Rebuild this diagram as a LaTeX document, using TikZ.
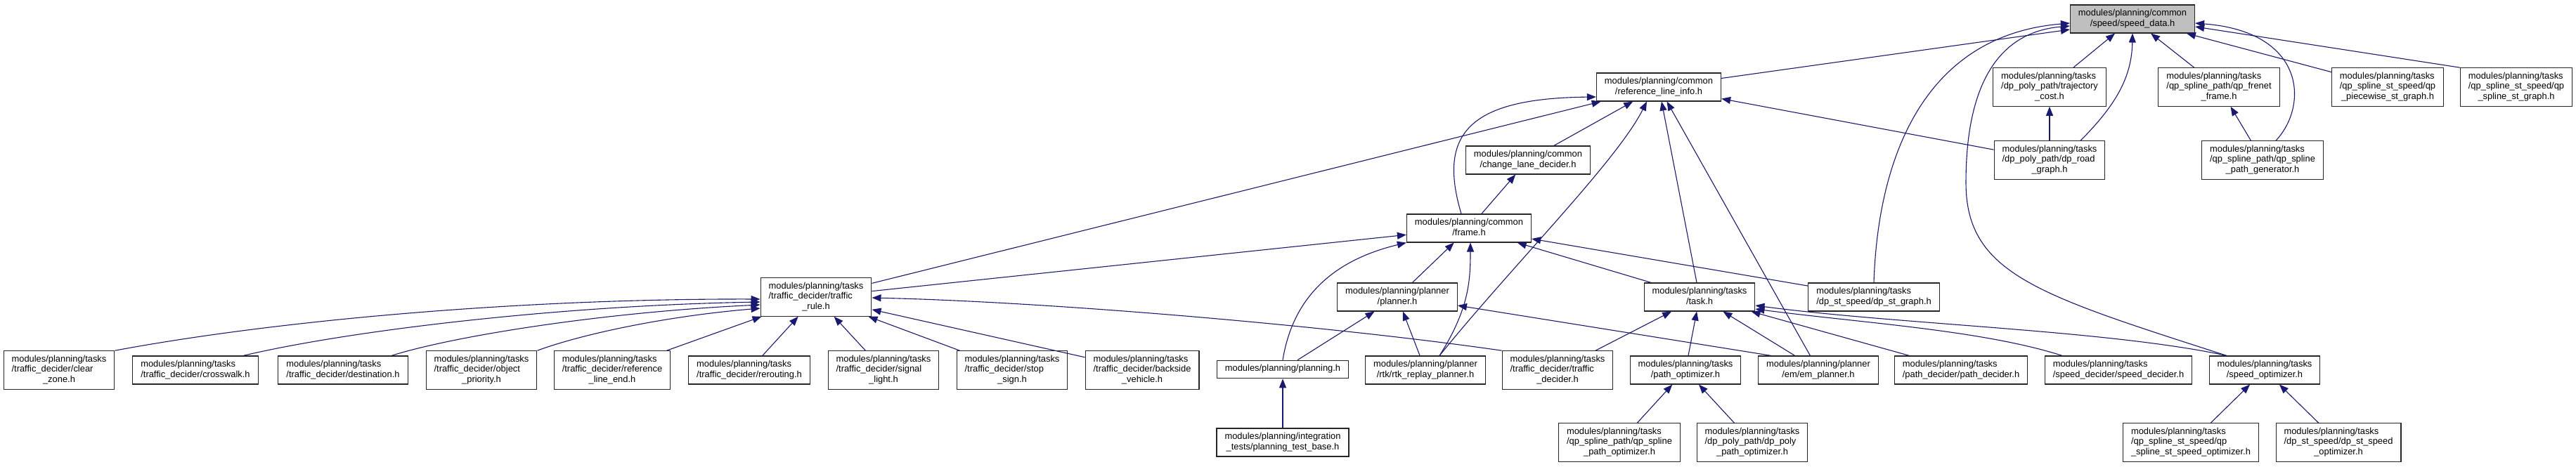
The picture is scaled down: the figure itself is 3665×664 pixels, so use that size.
\documentclass[tikz,border=0pt]{standalone}
\usepackage{fontspec}
\setmainfont{Liberation Sans}
\usetikzlibrary{arrows.meta}
\definecolor{EdgeBlue}{RGB}{25,25,112}
\definecolor{MainGray}{RGB}{191,191,191}
% label: all lines left aligned, last line centred
\newcommand{\dlab}[2]{\begin{tabular}{@{}l@{}}#1\\\multicolumn{1}{@{}c@{}}{#2}\end{tabular}}

\begin{document}
\begin{tikzpicture}[
  x=1pt, y=-1pt,
  file/.style={
    draw=black!85, line width=1.1pt,
    fill=white,
    font=\fontsize{12.9}{14.5}\selectfont,
    inner xsep=11.5pt, inner ysep=5.5pt},
  mainfile/.style={
    file, fill=MainGray},
  dep/.style={
    EdgeBlue, line width=1.1pt,
    -{Triangle[length=13pt,width=10pt]}}
]
\path[fill=white, use as bounding box] (0,0) rectangle (3665,664);

% top rows
\node[mainfile] (speed) at (3034,27)
  {\dlab{modules/planning/common}{/speed/speed\_data.h}};
\node[file] (refline) at (2360,124)
  {\dlab{modules/planning/common}{/reference\_line\_info.h}};
\node[file] (trajcost) at (2916,124)
  {\dlab{modules/planning/tasks\\/dp\_poly\_path/trajectory}{\_cost.h}};
\node[file] (frenet) at (3157,124)
  {\dlab{modules/planning/tasks\\/qp\_spline\_path/qp\_frenet}{\_frame.h}};
\node[file] (piecewise) at (3397,124)
  {\dlab{modules/planning/tasks\\/qp\_spline\_st\_speed/qp}{\_piecewise\_st\_graph.h}};
\node[file] (stgraph) at (3580,124)
  {\dlab{modules/planning/tasks\\/qp\_spline\_st\_speed/qp}{\_spline\_st\_graph.h}};
\node[file] (changelane) at (2174,228)
  {\dlab{modules/planning/common}{/change\_lane\_decider.h}};
\node[file] (roadgraph) at (2916,228)
  {\dlab{modules/planning/tasks\\/dp\_poly\_path/dp\_road}{\_graph.h}};
\node[file] (pathgen) at (3219,228)
  {\dlab{modules/planning/tasks\\/qp\_spline\_path/qp\_spline}{\_path\_generator.h}};
\node[file] (frame) at (2090,325)
  {\dlab{modules/planning/common}{/frame.h}};
\node[file] (trafficrule) at (1161,423)
  {\dlab{modules/planning/tasks\\/traffic\_decider/traffic}{\_rule.h}};
\node[file] (planner) at (1988,423)
  {\dlab{modules/planning/planner}{/planner.h}};
\node[file] (task) at (2418,423)
  {\dlab{modules/planning/tasks}{/task.h}};
\node[file] (dpstgraph) at (2666,423)
  {\dlab{modules/planning/tasks}{/dp\_st\_speed/dp\_st\_graph.h}};

% bottom rows
\node[file] (clearzone) at (84,527)
  {\dlab{modules/planning/tasks\\/traffic\_decider/clear}{\_zone.h}};
\node[file] (crosswalk) at (278,527)
  {\dlab{modules/planning/tasks}{/traffic\_decider/crosswalk.h}};
\node[file] (destination) at (488,527)
  {\dlab{modules/planning/tasks}{/traffic\_decider/destination.h}};
\node[file] (objprio) at (685,527)
  {\dlab{modules/planning/tasks\\/traffic\_decider/object}{\_priority.h}};
\node[file] (reflineend) at (871,527)
  {\dlab{modules/planning/tasks\\/traffic\_decider/reference}{\_line\_end.h}};
\node[file] (rerouting) at (1066,527)
  {\dlab{modules/planning/tasks}{/traffic\_decider/rerouting.h}};
\node[file] (signal) at (1257,527)
  {\dlab{modules/planning/tasks\\/traffic\_decider/signal}{\_light.h}};
\node[file] (stopsign) at (1440,527)
  {\dlab{modules/planning/tasks\\/traffic\_decider/stop}{\_sign.h}};
\node[file] (backside) at (1625,527)
  {\dlab{modules/planning/tasks\\/traffic\_decider/backside}{\_vehicle.h}};
\node[file] (planning) at (1825,526)
  {\strut modules/planning/planning.h};
\node[file] (rtk) at (2028,527)
  {\dlab{modules/planning/planner}{/rtk/rtk\_replay\_planner.h}};
\node[file] (tdecider) at (2216,527)
  {\dlab{modules/planning/tasks\\/traffic\_decider/traffic}{\_decider.h}};
\node[file] (pathopt) at (2398,527)
  {\dlab{modules/planning/tasks}{/path\_optimizer.h}};
\node[file] (emplanner) at (2587,527)
  {\dlab{modules/planning/planner}{/em/em\_planner.h}};
\node[file] (pathdecider) at (2790,527)
  {\dlab{modules/planning/tasks}{/path\_decider/path\_decider.h}};
\node[file] (speeddecider) at (3014,527)
  {\dlab{modules/planning/tasks}{/speed\_decider/speed\_decider.h}};
\node[file] (speedopt) at (3222,527)
  {\dlab{modules/planning/tasks}{/speed\_optimizer.h}};
\node[file] (testbase) at (1825,630)
  {\dlab{modules/planning/integration}{\_tests/planning\_test\_base.h}};
\node[file] (qppathopt) at (2304,630)
  {\dlab{modules/planning/tasks\\/qp\_spline\_path/qp\_spline}{\_path\_optimizer.h}};
\node[file] (dppathopt) at (2493,630)
  {\dlab{modules/planning/tasks\\/dp\_poly\_path/dp\_poly}{\_path\_optimizer.h}};
\node[file] (qpstopt) at (3117,630)
  {\dlab{modules/planning/tasks\\/qp\_spline\_st\_speed/qp}{\_spline\_st\_speed\_optimizer.h}};
\node[file] (dpstopt) at (3327,630)
  {\dlab{modules/planning/tasks\\/dp\_st\_speed/dp\_st\_speed}{\_optimizer.h}};

% straight includes
\foreach \a/\b in
  {trajcost/speed,frenet/speed,piecewise/speed,
   roadgraph/trajcost,pathgen/frenet,roadgraph/refline,
   trafficrule/refline,changelane/refline,task/refline,
   emplanner/refline,trafficrule/frame,planner/frame,
   task/frame,dpstgraph/frame,frame/changelane,
   reflineend/trafficrule,rerouting/trafficrule,
   signal/trafficrule,stopsign/trafficrule,
   backside/trafficrule,planning/planner,rtk/planner,
   tdecider/task,pathopt/task,emplanner/task,
   pathdecider/task,testbase/planning,qppathopt/pathopt,
   dppathopt/pathopt,qpstopt/speedopt,dpstopt/speedopt}{
  \draw[dep] (\a) -- (\b);
}
\draw[dep] (refline) -- ([yshift=-15pt]speed.west);
\draw[dep] (stgraph.north west) -- ([yshift=-11pt]speed.east);
\draw[dep] ([xshift=19pt]emplanner.north west)
  -- ([yshift=-12pt]planner.east);

% curved includes
\draw[dep] (dpstgraph.north) .. controls (2672,220) and (2740,50)
  .. ([yshift=-6pt]speed.west);
\draw[dep] ([xshift=-54pt]speedopt.north)
  .. controls (2900,420) and (2797,390) .. (2797,260)
  .. controls (2797,110) and (2850,45) .. ([yshift=-10pt]speed.west);
\draw[dep] ([xshift=44pt]roadgraph.north)
  .. controls (3010,150) and (3033,110) .. (speed.south);
\draw[dep] ([xshift=19pt]pathgen.north)
  .. controls (3285,150) and (3280,45) .. ([yshift=-6pt]speed.east);
\draw[dep] ([xshift=-11pt]frame.north)
  .. controls (2045,190) and (2090,140) .. ([yshift=-14pt]refline.west);
\draw[dep] ([xshift=20pt]rtk.north)
  .. controls (2150,380) and (2300,230) .. ([xshift=-17pt]refline.south);
\draw[dep] (planning.north)
  .. controls (1840,420) and (1900,370) .. (frame.south west);
\draw[dep] ([xshift=20pt]rtk.north)
  .. controls (2090,440) and (2092,400) .. ([xshift=2pt]frame.south);
\draw[dep] (clearzone.north east)
  .. controls (400,455) and (750,425) .. ([yshift=-3pt]trafficrule.west);
\draw[dep] ([xshift=68pt]crosswalk.north)
  .. controls (500,470) and (800,435) .. ([yshift=-7pt]trafficrule.west);
\draw[dep] ([xshift=69pt]destination.north)
  .. controls (640,480) and (850,445) .. ([yshift=-11pt]trafficrule.west);
\draw[dep] (objprio.north east)
  .. controls (830,475) and (950,450) .. ([yshift=-16pt]trafficrule.west);
\draw[dep] (tdecider.north west)
  .. controls (1900,465) and (1500,430) .. ([yshift=-1pt]trafficrule.east);
\draw[dep] ([xshift=-80pt]speeddecider.north)
  .. controls (2820,470) and (2650,460) .. ([yshift=-17pt]task.east);
\draw[dep] ([xshift=-54pt]speedopt.north)
  .. controls (3000,470) and (2700,462) .. ([yshift=-12pt]task.east);
\end{tikzpicture}
\end{document}
